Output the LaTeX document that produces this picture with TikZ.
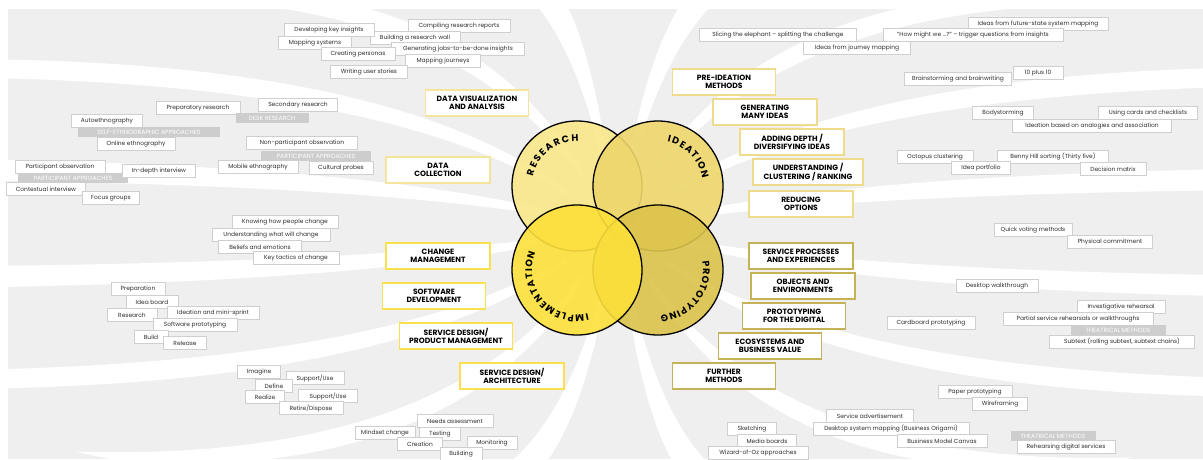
\documentclass[tikz,border=0pt]{standalone}
\usepackage{fontspec}
\setmainfont{Poppins}
\usetikzlibrary{decorations.text,shadows}
\definecolor{bgc}{HTML}{EFEFEF}
\definecolor{smd}{HTML}{CFCFCF}
\definecolor{gyc}{HTML}{CDCDCD}
\definecolor{txt}{HTML}{2E2E2E}
\definecolor{resc}{HTML}{FBE88A}
\definecolor{ideac}{HTML}{EED66C}
\definecolor{implc}{HTML}{FDE03A}
\definecolor{protc}{HTML}{DCC34B}
\definecolor{resb}{HTML}{F4E49C}
\definecolor{implb}{HTML}{F8E04E}
\definecolor{ideab}{HTML}{EEDB8C}
\definecolor{protb}{HTML}{C6B256}
\tikzset{
 sm/.style={draw=smd, line width=0.7pt, fill=white, text=txt,
   font=\fontsize{5.9}{6.5}\selectfont, minimum height=12.5pt,
   minimum width=#1, inner xsep=2pt, inner ysep=0pt,
   drop shadow={shadow xshift=0.5pt, shadow yshift=-0.8pt, opacity=0.12, fill=black}},
 gy/.style={fill=gyc, text=white, font=\fontsize{6.1}{6.5}\selectfont,
   minimum height=10pt, minimum width=#1, inner sep=0pt},
 bb/.style={fill=white, line width=1.1pt, minimum height=26pt, minimum width=#1,
   inner sep=1pt, align=center, text=black, font=\fontsize{7.6}{8.2}\selectfont\bfseries},
 venn/.style={circle, minimum size=130pt, inner sep=0pt, draw=black, line width=1.3pt, fill opacity=0.9},
 ctext/.style={decorate, decoration={text along path, text align={fit to path}, text={#1}}},
}
\begin{document}
\begin{tikzpicture}[x=1pt,y=-1pt]
\useasboundingbox (0,0) rectangle (1203,459);
\fill[white] (0,0) rectangle (1203,459);
\fill[bgc] (8,9) rectangle (1203,459);
% background swirl bands
\begin{scope}
\clip (8,9) rectangle (1203,459);
\foreach \t in {8,30.5,...,360} {
  \pgfmathsetmacro{\ca}{cos(\t)}
  \pgfmathsetmacro{\sa}{-sin(\t)}
  \pgfmathsetmacro{\cb}{cos(\t+4.5)}
  \pgfmathsetmacro{\sbb}{-sin(\t+4.5)}
  \fill[white] (617+60*\ca, 228+60*\sa) .. controls (617+200*\ca, 228+200*\sa) and (617+450*\ca, 228+290*\sa) .. (617+900*\ca, 228+280*\sa)
     -- (617+900*\cb, 228+280*\sbb) .. controls (617+450*\cb, 228+290*\sbb) and (617+200*\cb, 228+200*\sbb) .. (617+60*\cb, 228+60*\sbb) -- cycle;
}
\end{scope}

% Venn circles
\node[venn, fill=resc] (research) at (577,186) {};
\node[venn, fill=ideac] (ideation) at (658,186) {};
\node[venn, fill=protc] (prototyping) at (658,270) {};
\node[venn, fill=implc] (implementation) at (577,270) {};
\path[ctext={|\fontsize{9.5}{9.5}\selectfont\bfseries|RESEARCH}] ([shift={(577,186)}]-168:45) arc[start angle=-168, end angle=-88, radius=45];
\path[ctext={|\fontsize{9.5}{9.5}\selectfont\bfseries|IDEATION}] ([shift={(658,186)}]-78:45) arc[start angle=-78, end angle=-10, radius=45];
\path[ctext={|\fontsize{9.5}{9.5}\selectfont\bfseries|IMPLEMENTATION}] ([shift={(577,270)}]76:45) arc[start angle=76, end angle=203, radius=45];
\path[ctext={|\fontsize{9.5}{9.5}\selectfont\bfseries|PROTOTYPING}] ([shift={(658,270)}]-11:45) arc[start angle=-11, end angle=87, radius=45];

% bold category boxes
\node[bb=103, draw=resb] (dv) at (477,103) {DATA VISUALIZATION\\AND ANALYSIS};
\node[bb=104, draw=resb] (dc) at (438,170) {DATA\\COLLECTION};
\node[bb=104, draw=implb] (cm) at (438,256) {CHANGE\\MANAGEMENT};
\node[bb=103, draw=implb] (sd) at (434,296) {SOFTWARE\\DEVELOPMENT};
\node[bb=113, draw=implb] (sp) at (456,336) {SERVICE DESIGN/\\PRODUCT MANAGEMENT};
\node[bb=104, draw=implb] (sa) at (512,376) {SERVICE DESIGN/\\ARCHITECTURE};
\node[bb=103, draw=ideab] (pi) at (724,82) {PRE-IDEATION\\METHODS};
\node[bb=104, draw=ideab] (gm) at (765,112) {GENERATING\\MANY IDEAS};
\node[bb=104, draw=ideab] (ad) at (792,142) {ADDING DEPTH /\\DIVERSIFYING IDEAS};
\node[bb=110, draw=ideab] (uc) at (808,172) {UNDERSTANDING /\\CLUSTERING / RANKING};
\node[bb=104, draw=ideab] (ro) at (801,204) {REDUCING\\OPTIONS};
\node[bb=104, draw=protb] (spe) at (801,256) {SERVICE PROCESSES\\AND EXPERIENCES};
\node[bb=104, draw=protb] (oe) at (803,286) {OBJECTS AND\\ENVIRONMENTS};
\node[bb=103, draw=protb] (pd) at (794,316) {PROTOTYPING\\FOR THE DIGITAL};
\node[bb=103, draw=protb] (eb) at (770,346) {ECOSYSTEMS AND\\BUSINESS VALUE};
\node[bb=103, draw=protb] (fm) at (724,376) {FURTHER\\METHODS};

% research: data visualization cluster
\node[sm=102] (a1) at (459,26) {Compiling research reports};
\node[sm=90] (a2) at (415,38) {Building a research wall};
\node[sm=90] (a3) at (329,30) {Developing key insights};
\node[sm=73] (a4) at (315,43) {Mapping systems};
\node[sm=133] (a5) at (458,49) {Generating jobs-to-be-done insights};
\node[sm=74] (a6) at (358,54) {Creating personas};
\node[sm=75] (a7) at (443,61) {Mapping journeys};
\node[sm=77] (a8) at (369,72) {Writing user stories};

% research: data collection cluster
\node[sm=84] (b1) at (198,108) {Preparatory research};
\node[gy=73] (b2) at (272,118) {DESK RESEARCH};
\node[sm=79] (b3) at (298,105) {Secondary research};
\node[sm=71] (b4) at (107,121) {Autoethnography};
\node[gy=142] (b5) at (149,132) {SELF-ETHNOGRAPHIC APPROACHES};
\node[sm=78] (b6) at (136,144) {Online ethnography};
\node[gy=110] (b7) at (316,156) {PARTICIPANT APPROACHES};
\node[sm=111] (b8) at (302,143) {Non-participant observation};
\node[sm=80] (b9) at (258,167) {Mobile ethnography};
\node[sm=64] (b10) at (341,168) {Cultural probes};
\node[gy=110] (b11) at (73,178) {PARTICIPANT APPROACHES};
\node[sm=90] (b12) at (60,167) {Participant observation};
\node[sm=73] (b13) at (159,171) {In-depth interview};
\node[sm=79] (b14) at (46,189) {Contextual interview};
\node[sm=57] (b15) at (111,198) {Focus groups};

% implementation: change management
\node[sm=106] (c1) at (285,222) {Knowing how people change};
\node[sm=118] (c2) at (271,235) {Understanding what will change};
\node[sm=83] (c3) at (260,247) {Beliefs and emotions};
\node[sm=86] (c4) at (296,258) {Key tactics of change};

% implementation: software development
\node[sm=54] (d1) at (138,289) {Preparation};
\node[sm=52] (d2) at (152,302) {Idea board};
\node[sm=50] (d3) at (132,315) {Research};
\node[sm=92] (d4) at (213,313) {Ideation and mini-sprint};
\node[sm=84] (d5) at (195,325) {Software prototyping};
\node[sm=34] (d6) at (151,337) {Build};
\node[sm=43] (d7) at (185,343) {Release};

% implementation: service design / product management
\node[sm=43] (e1) at (259,372) {Imagine};
\node[sm=58] (e2) at (315,378) {Support/Use};
\node[sm=37] (e3) at (274,386) {Define};
\node[sm=39] (e4) at (265,397) {Realize};
\node[sm=59] (e5) at (328,396) {Support/Use};
\node[sm=64] (e6) at (311,408) {Retire/Dispose};

% implementation: service design / architecture
\node[sm=76] (f1) at (455,421) {Needs assessment};
\node[sm=60] (f2) at (385,433) {Mindset change};
\node[sm=41] (f3) at (440,434) {Testing};
\node[sm=45] (f4) at (420,444) {Creation};
\node[sm=50] (f5) at (492,443) {Monitoring};
\node[sm=42] (f6) at (461,454) {Building};

% ideation
\node[sm=157] (g1) at (778,35) {Slicing the elephant -- splitting the challenge};
\node[sm=140] (g2) at (1038,24) {Ideas from future-state system mapping};
\node[sm=180] (g3) at (973,35) {"How might we ...?" -- trigger questions from insights};
\node[sm=107] (g4) at (857,48) {Ideas from journey mapping};
\node[sm=107] (g5) at (958,79) {Brainstorming and brainwriting};
\node[sm=50] (g6) at (1038,73) {10 plus 10};
\node[sm=61] (g7) at (1003,113) {Bodystorming};
\node[sm=99] (g8) at (1148,113) {Using cards and checklists};
\node[sm=159] (g9) at (1092,126) {Ideation based on analogies and association};
\node[sm=76] (g10) at (935,157) {Octopus clustering};
\node[sm=111] (g11) at (1053,157) {Benny Hill sorting (Thirty five)};
\node[sm=59] (g12) at (981,168) {Idea portfolio};
\node[sm=66] (g13) at (1113,169) {Decision matrix};
\node[sm=78] (g14) at (1033,230) {Quick voting methods};
\node[sm=85] (g15) at (1110,242) {Physical commitment};

% prototyping
\node[sm=82] (h1) at (997,286) {Desktop walkthrough};
\node[sm=88] (h2) at (931,323) {Cardboard prototyping};
\node[sm=88] (h3) at (1121,307) {Investigative rehearsal};
\node[sm=150] (h4) at (1078,319) {Partial service rehearsals or walkthroughs};
\node[gy=95] (h5) at (1118,330) {THEATRICAL METHODS};
\node[sm=145] (h6) at (1122,342) {Subtext (rolling subtext, subtext chains)};
\node[sm=74] (h7) at (975,392) {Paper prototyping};
\node[sm=55] (h8) at (1000,404) {Wireframing};
\node[sm=87] (h9) at (870,416) {Service advertisement};
\node[sm=156] (h10) at (891,429) {Desktop system mapping (Business Origami)};
\node[sm=90] (h11) at (942,441) {Business Model Canvas};
\node[sm=49] (h12) at (752,429) {Sketching};
\node[sm=59] (h13) at (767,441) {Media boards};
\node[sm=100] (h14) at (758,453) {Wizard-of-Oz approaches};
\node[gy=85] (h15) at (1053,436) {THEATRICAL METHODS};
\node[sm=98] (h16) at (1066,447) {Rehearsing digital services};
\end{tikzpicture}
\end{document}
